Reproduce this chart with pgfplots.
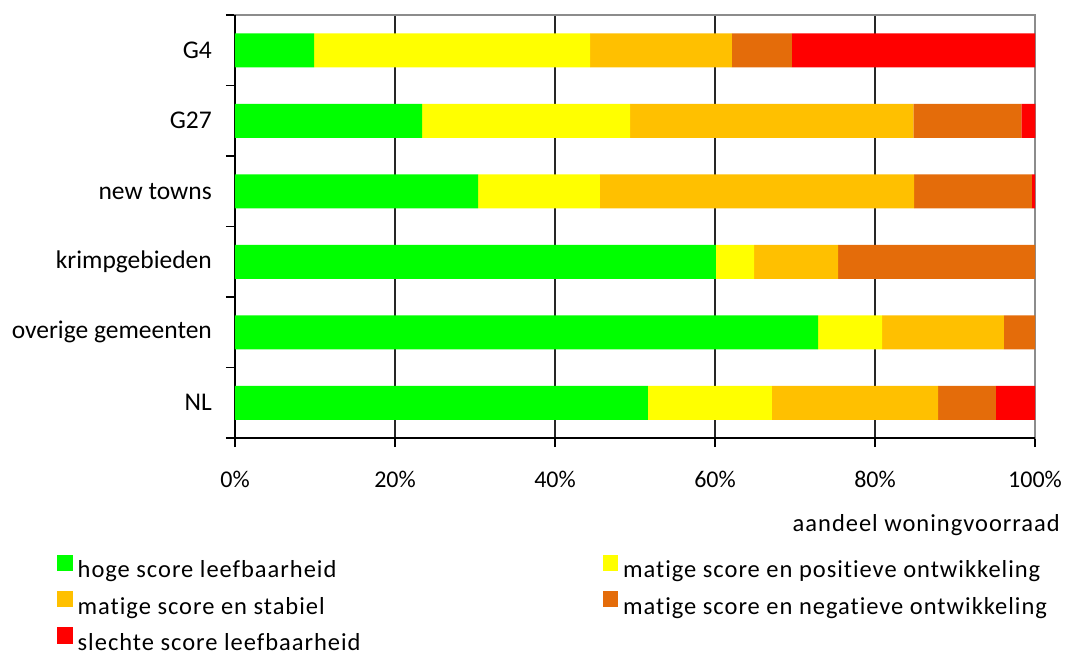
\documentclass[border=0pt]{standalone}
\usepackage{pgfplots}
\pgfplotsset{compat=1.18}
\usepackage{fontspec}
\setmainfont{Carlito}
\newfontfamily\spaced[LetterSpace=4,Ligatures=NoCommon]{Carlito}
\definecolor{cgreen}{HTML}{00FF00}
\definecolor{cyellow}{HTML}{FFFF00}
\definecolor{corange}{HTML}{FFC000}
\definecolor{cdark}{HTML}{E46C0A}
\definecolor{cred}{HTML}{FF0000}
\begin{document}
\fontsize{24bp}{28bp}\selectfont
\begin{tikzpicture}
\path (-235bp,-207bp) rectangle (838bp,438bp);
\begin{axis}[
  at={(0,0)}, anchor=south west,
  scale only axis, width=800bp, height=423bp,
  xbar stacked, bar width=34bp,
  xmin=0, xmax=100, ymin=-0.5, ymax=5.5,
  xtick={0,20,...,100},
  xticklabels={0\%,20\%,40\%,60\%,80\%,100\%},
  ytick={0,...,5},
  yticklabels={NL,overige gemeenten,krimpgebieden,new towns,G27,G4},
  minor ytick={-0.5,0.5,...,5.5},
  xtick pos=lower, ytick pos=left,
  tick align=outside,
  major tick length=9bp, minor tick length=9bp,
  major y tick style={draw=none},
  minor y tick style={draw=black, line width=1.5bp},
  major x tick style={draw=black, line width=1.5bp},
  xmajorgrids,
  major x grid style={draw=black!85, line width=1.5bp},
  axis line style={draw=gray!90, line width=2bp},
  xticklabel style={inner sep=0pt, anchor=base, yshift=-40bp, font=\fontsize{24bp}{28bp}\selectfont},
  yticklabel style={inner sep=0pt, anchor=east, xshift=-14bp, font=\fontsize{25.5bp}{28bp}\selectfont},
  xlabel={aandeel woningvoorraad},
  xlabel style={at={(axis description cs:1.03125,-0.2222)}, anchor=base east, inner sep=0pt, font=\fontsize{24.5bp}{28bp}\spaced},
  clip=false,
  legend columns=2,
  legend cell align=left,
  legend image code/.code={\fill[#1] (0bp,0bp) rectangle (15.5bp,16.5bp);},
  legend style={at={(axis description cs:-0.2225,-0.275)}, anchor=north west,
    draw=none, fill=none, inner sep=0pt, font=\fontsize{24.5bp}{28bp}\spaced,
    row sep=7.5bp,
    /tikz/column 2/.style={column sep=240bp},
    /tikz/every odd column/.append style={column sep=3bp}},
]
\addplot[fill=cgreen, draw=none] coordinates {(51.6,0) (72.9,1) (60.1,2) (30.4,3) (23.4,4) (9.9,5)};
\addplot[fill=cyellow, draw=none] coordinates {(15.5,0) (8.0,1) (4.8,2) (15.2,3) (26.0,4) (34.5,5)};
\addplot[fill=corange, draw=none] coordinates {(20.8,0) (15.2,1) (10.5,2) (39.3,3) (35.4,4) (17.7,5)};
\addplot[fill=cdark, draw=none] coordinates {(7.2,0) (3.9,1) (24.6,2) (14.7,3) (13.5,4) (7.5,5)};
\addplot[fill=cred, draw=none] coordinates {(4.9,0) (0,1) (0,2) (0.4,3) (1.75,4) (30.4,5)};
\legend{hoge score leefbaarheid, matige score en positieve ontwikkeling, matige score en stabiel, matige score en negatieve ontwikkeling, slechte score leefbaarheid}
\draw[black, line width=2bp] (axis cs:100,-0.5) -- (axis cs:0,-0.5) -- (axis cs:0,5.5);
\end{axis}
\end{tikzpicture}
\end{document}
